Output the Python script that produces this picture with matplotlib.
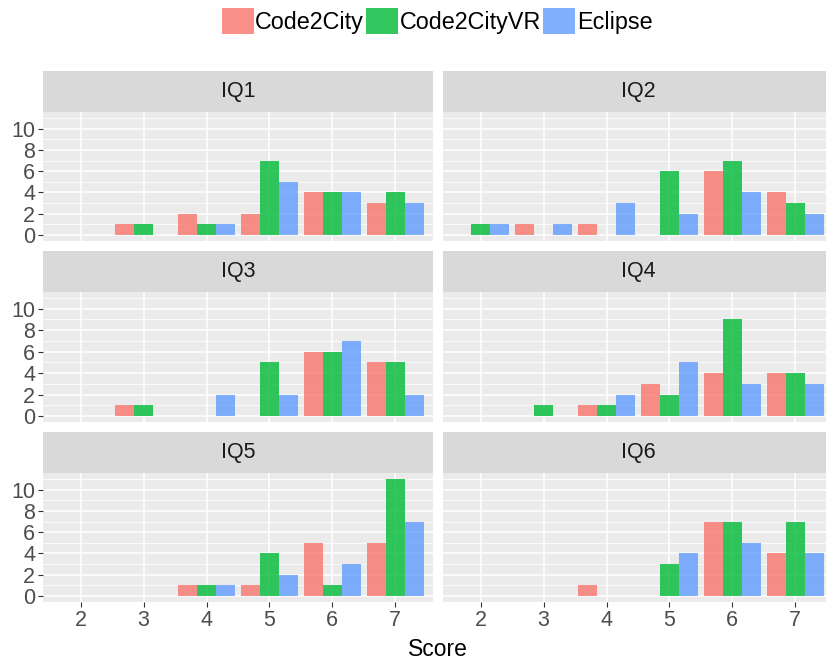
import matplotlib
matplotlib.use("Agg")
import matplotlib.pyplot as plt
from matplotlib.patches import Patch
import numpy as np

plt.rcParams['font.family'] = ['Liberation Sans', 'DejaVu Sans']

scores = [2, 3, 4, 5, 6, 7]
tools = ["Code2City", "Code2CityVR", "Eclipse"]
colors = ["#F8766D", "#00BA38", "#619CFF"]
panels = ["IQ1", "IQ2", "IQ3", "IQ4", "IQ5", "IQ6"]

# counts per score (2..7) for Code2City, Code2CityVR, Eclipse
iq1 = [[0, 1, 2, 2, 4, 3], [0, 1, 1, 7, 4, 4], [0, 0, 1, 5, 4, 3]]
iq2 = [[0, 1, 1, 0, 6, 4], [1, 0, 0, 6, 7, 3], [1, 1, 3, 2, 4, 2]]
iq3 = [[0, 1, 0, 0, 6, 5], [0, 1, 0, 5, 6, 5], [0, 0, 2, 2, 7, 2]]
iq4 = [[0, 0, 1, 3, 4, 4], [0, 1, 1, 2, 9, 4], [0, 0, 2, 5, 3, 3]]
iq5 = [[0, 0, 1, 1, 5, 5], [0, 0, 1, 4, 1, 11], [0, 0, 1, 2, 3, 7]]
iq6 = [[0, 0, 1, 0, 7, 4], [0, 0, 0, 3, 7, 7], [0, 0, 0, 4, 5, 4]]
counts = [iq1, iq2, iq3, iq4, iq5, iq6]

W, H = 826, 666
fig = plt.figure(figsize=(W / 100, H / 100), dpi=100)

col_x = [(43, 433), (443, 833)]
row_y = [(112, 241), (292, 422), (473, 602)]
strip_h = 41
bar_w = 0.3
x = np.array(scores)

for i, name in enumerate(panels):
    r, c = divmod(i, 2)
    x0, x1 = col_x[c]
    y0, y1 = row_y[r]
    ax = fig.add_axes([x0 / W, 1 - y1 / H, (x1 - x0) / W, (y1 - y0) / H])
    ax.set_facecolor("#EBEBEB")
    for s in ax.spines.values():
        s.set_visible(False)
    ax.set_xlim(1.4, 7.6)
    ax.set_ylim(-0.55, 11.55)
    ax.set_yticks([0, 2, 4, 6, 8, 10])
    ax.set_yticks([1, 3, 5, 7, 9, 11], minor=True)
    ax.set_xticks(scores)
    ax.grid(True, which="major", color="white", linewidth=1.1)
    ax.grid(True, which="minor", axis="y", color="white", linewidth=0.55)
    ax.set_axisbelow(True)
    ax.tick_params(which="minor", length=0)
    ax.tick_params(which="major", length=3.5, width=0.8, color="#333333",
                   labelsize=15.5, labelcolor="#4D4D4D", pad=2)
    if c == 1:
        ax.tick_params(axis="y", left=False, labelleft=False)
    if r < 2:
        ax.tick_params(axis="x", bottom=False, labelbottom=False)
    for k in range(3):
        ax.bar(x + (k - 1) * bar_w, counts[i][k], bar_w, color=colors[k],
               alpha=0.8, linewidth=0)

    sax = fig.add_axes([x0 / W, 1 - y0 / H, (x1 - x0) / W, strip_h / H])
    sax.set_facecolor("#D9D9D9")
    sax.set_xticks([])
    sax.set_yticks([])
    for s in sax.spines.values():
        s.set_visible(False)
    sax.text(0.5, 0.5, name, ha="center", va="center", fontsize=15.5,
             color="#1A1A1A", transform=sax.transAxes)

fig.text(438 / W, 1 - 650 / H, "Score", ha="center", va="center",
         fontsize=16.5, color="black")

handles = [Patch(facecolor=col, alpha=0.8, linewidth=0) for col in colors]
fig.legend(handles, tools, loc="center", bbox_to_anchor=(437 / W, 1 - 21 / H),
           ncol=3, frameon=False, fontsize=16.8, handlelength=1.37,
           handleheight=1.37, handletextpad=0.07, columnspacing=0.09,
           borderpad=0, borderaxespad=0)

fig.savefig("out.png", dpi=100)
